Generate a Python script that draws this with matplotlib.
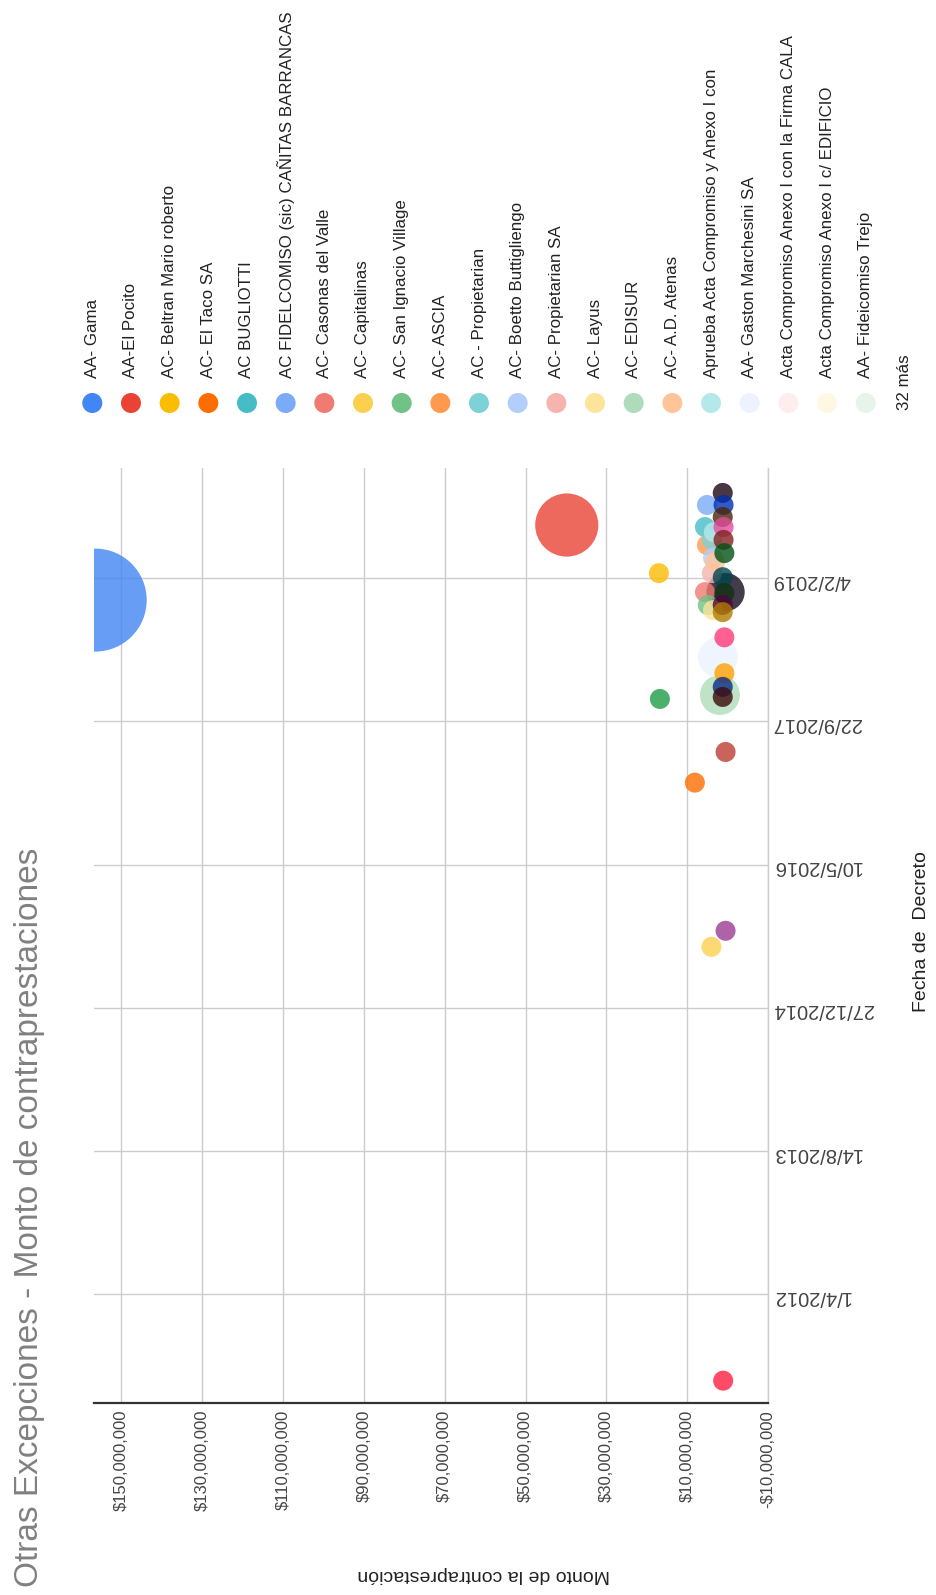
import pandas as pd
import matplotlib
matplotlib.use("Agg")
import matplotlib.pyplot as plt
import matplotlib.dates as mdates

plt.rcParams['font.family'] = ['Liberation Sans', 'DejaVu Sans']

# 1) Series que aparecen en la leyenda (con su color)
series_leyenda = [
    "AA- Gama", "AA-El Pocito", "AC- Beltran Mario roberto", "AC- El Taco SA",
    "AC BUGLIOTTI", "AC FIDELCOMISO (sic) CAÑITAS BARRANCAS", "AC- Casonas del Valle",
    "AC- Capitalinas", "AC- San Ignacio Village", "AC- ASCIA", "AC - Propietarian",
    "AC- Boetto Buttigliengo", "AC- Propietarian SA", "AC- Layus", "AC- EDISUR",
    "AC- A.D. Atenas", "Aprueba Acta Compromiso y Anexo I con", "AA- Gaston Marchesini SA",
    "Acta Compromiso Anexo I con la Firma CALA", "Acta Compromiso Anexo I c/ EDIFICIO",
    "AA- Fideicomiso Trejo",
]
colores_leyenda = [
    "#4285F4", "#EA4335", "#FBBC04", "#FF6D01", "#46BDC6", "#7BAAF7", "#F07B72",
    "#FCD04F", "#71C287", "#FF994D", "#7ED1D7", "#B3CEFB", "#F7B4AE", "#FDE49B",
    "#AEDCBA", "#FFC599", "#B5E8EB", "#ECF3FE", "#FDEDEC", "#FEF8E3", "#E7F4EA",
]
texto_mas = "32 más"

# series que no entran en la leyenda ("32 más")
otras_series = ["Serie 22", "Serie 23", "Serie 24", "Serie 25", "Serie 26", "Serie 27",
                "Serie 28", "Serie 29", "Serie 30", "Serie 31", "Serie 32", "Serie 33",
                "Serie 34", "Serie 35", "Serie 36", "Serie 37", "Serie 38", "Serie 39",
                "Serie 40"]
colores_otras = ["#1c0612", "#0030b8", "#4a2606", "#e04c9c", "#84201f", "#005214",
                 "#004650", "#180a1e", "#0e3214", "#50043c", "#b07c00", "#ff3a78",
                 "#ffa000", "#0a2c86", "#3c0a0c", "#bc3c32", "#9a3c92", "#ff1e3e",
                 "#1e9c44"]

# 2) Burbujas: serie, fecha de decreto, monto, tamaño
serie_burbuja = [
    "AA- Gama", "AA-El Pocito", "AC- EDISUR", "AA- Gaston Marchesini SA", "Serie 29",
    "AC- Beltran Mario roberto", "AC- El Taco SA", "AC BUGLIOTTI",
    "AC FIDELCOMISO (sic) CAÑITAS BARRANCAS", "AC- Casonas del Valle", "AC- Capitalinas",
    "AC- San Ignacio Village", "AC- ASCIA", "AC - Propietarian", "AC- Boetto Buttigliengo",
    "AC- Propietarian SA", "AC- Layus", "AC- A.D. Atenas",
    "Aprueba Acta Compromiso y Anexo I con",
    "Serie 22", "Serie 23", "Serie 24", "Serie 25", "Serie 26", "Serie 27", "Serie 28",
    "Serie 30", "Serie 31", "Serie 32", "Serie 33", "Serie 34", "Serie 35", "Serie 36",
    "Serie 37", "Serie 38", "Serie 39", "Serie 40",
]
fecha_decreto = [
    "2018-11-19", "2019-08-08", "2017-12-23", "2018-05-03", "2018-12-17",
    "2019-02-21", "2017-02-20", "2019-08-01",
    "2019-10-17", "2018-12-17", "2015-07-28",
    "2018-11-02", "2019-05-30", "2019-06-17", "2019-04-15",
    "2019-02-21", "2018-10-15", "2019-04-01",
    "2019-07-14",
    "2019-11-28", "2019-10-17", "2019-09-05", "2019-08-01", "2019-06-17", "2019-05-02", "2019-02-07",
    "2018-12-14", "2018-11-02", "2018-10-08", "2018-07-12", "2018-03-09", "2018-01-20", "2017-12-16",
    "2017-06-07", "2015-09-22", "2011-06-05", "2017-12-09",
]
monto = [
    156.5e6, 39.8e6, 1.9e6, 2.4e6, 0.5e6,
    17.0e6, 8.1e6, 5.6e6,
    5.1e6, 5.6e6, 4.0e6,
    4.9e6, 5.1e6, 3.9e6, 3.6e6,
    3.9e6, 3.6e6, 3.1e6,
    3.4e6,
    1.2e6, 1.0e6, 1.2e6, 1.0e6, 1.0e6, 0.8e6, 1.2e6,
    0.8e6, 1.2e6, 1.2e6, 0.8e6, 0.8e6, 1.2e6, 1.2e6,
    0.5e6, 0.5e6, 1.1e6, 16.75e6,
]
tamano = [
    100, 52, 24, 24, 22,
    0, 0, 0,
    0, 0, 0,
    0, 0, 0, 0,
    0, 0, 0,
    0,
    0, 0, 0, 0, 0, 0, 0,
    0, 0, 0, 0, 0, 0, 0,
    0, 0, 0, 0,
]

# 3) Ejes
ticks_monto = [-10e6, 10e6, 30e6, 50e6, 70e6, 90e6, 110e6, 130e6, 150e6]
ticks_fecha = ["1/4/2012", "14/8/2013", "27/12/2014", "10/5/2016", "22/9/2017", "4/2/2019"]
limites_fecha = ["2011-03-19", "2020-02-23"]
limites_monto = [-10e6, 156.8e6]

titulo = "Otras Excepciones - Monto de contraprestaciones"
eje_monto = "Monto de la contraprestación"
eje_fecha = "Fecha de  Decreto"

W, H, DPI = 936, 1595, 100
fig = plt.figure(figsize=(W / DPI, H / DPI), dpi=DPI)

# area del grafico (todo el grafico va girado 90 grados)
ax = fig.add_axes([94 / W, 1 - 1403 / H, (768 - 94) / W, (1403 - 468) / H])

color_serie = dict(zip(series_leyenda, colores_leyenda))
color_serie.update(dict(zip(otras_series, colores_otras)))

df = pd.DataFrame({"serie": serie_burbuja, "fecha": pd.to_datetime(fecha_decreto),
                   "monto": monto, "tamano": tamano})
df["orden"] = range(len(df))
df = df.sort_values(["tamano", "orden"], ascending=[False, True])

t_min, t_max = min(tamano), max(tamano)
radio_px = 10 + (df["tamano"] - t_min) / (t_max - t_min) * 41.5
area = (2 * radio_px * 72 / DPI) ** 2

ax.scatter(df["monto"], mdates.date2num(df["fecha"]), s=area,
           c=[color_serie[s] for s in df["serie"]], alpha=0.8,
           edgecolors="none", zorder=3)

ax.set_xlim(limites_monto[1], limites_monto[0])
ax.set_ylim(mdates.date2num(pd.to_datetime(limites_fecha[0])),
            mdates.date2num(pd.to_datetime(limites_fecha[1])))

ax.set_xticks(ticks_monto)
ax.set_xticklabels([("-$" if v < 0 else "$") + f"{abs(v):,.0f}" for v in ticks_monto])
ax.set_yticks(mdates.date2num(pd.to_datetime(ticks_fecha, dayfirst=True)))
ax.set_yticklabels(ticks_fecha)
ax.yaxis.tick_right()

ax.tick_params(axis="x", length=0, pad=5, labelrotation=90, labelsize=12, labelcolor="#444444")
ax.tick_params(axis="y", length=0, pad=3, labelrotation=180, labelsize=14.5, labelcolor="#444444")

ax.grid(True, color="#cccccc", lw=1)
ax.set_axisbelow(True)
for lado in ["left", "top"]:
    ax.spines[lado].set_visible(False)
ax.spines["right"].set_color("#cccccc")
ax.spines["right"].set_linewidth(1)
ax.spines["bottom"].set_color("#333333")
ax.spines["bottom"].set_linewidth(1.6)

# textos
fig.text(30 / W, 1 - 1587 / H, titulo, rotation=90, ha="center", va="bottom",
         fontsize=24, color="#808080")
fig.text(484 / W, 1 - 1575 / H, eje_monto, rotation=180, ha="center", va="center",
         fontsize=14, color="#222222")
fig.text(922 / W, 1 - 932 / H, eje_fecha, rotation=90, ha="center", va="center",
         fontsize=14, color="#222222")

# 4) Leyenda girada (arriba)
lax = fig.add_axes([0, 0, 1, 1], zorder=-1)
lax.set_xlim(0, W)
lax.set_ylim(H, 0)
lax.axis("off")
paso = 38.67
x_ley = [92.3 + i * paso for i in range(len(series_leyenda) + 1)]
lax.scatter(x_ley[:-1], [403] * len(series_leyenda), s=(2 * 10 * 72 / DPI) ** 2,
            c=colores_leyenda, edgecolors="none")
for x, nombre in zip(x_ley, series_leyenda):
    lax.text(x, 378, nombre, rotation=90, ha="center", va="bottom",
             fontsize=12.2, color="#222222")
lax.text(x_ley[-1], 410, texto_mas, rotation=90, ha="center", va="bottom",
         fontsize=12.2, color="#222222")

fig.savefig("out.png", dpi=DPI)
